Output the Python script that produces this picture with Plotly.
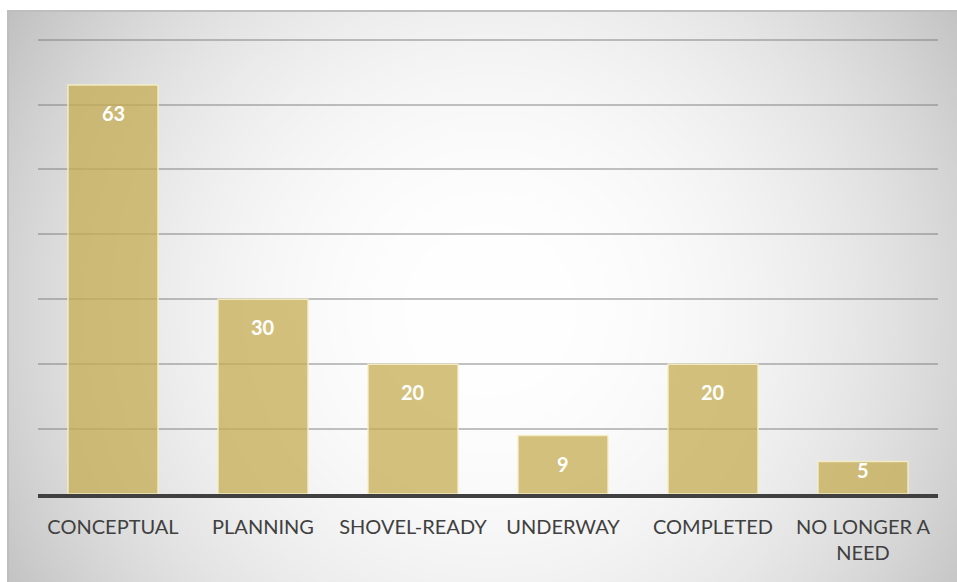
import base64
import struct
import zlib

import numpy as np
import plotly.graph_objects as go

# Project status counts
categories = ["CONCEPTUAL", "PLANNING", "SHOVEL-READY", "UNDERWAY", "COMPLETED", "NO LONGER A<br>NEED"]
counts = [63, 30, 20, 9, 20, 5]
y_ticks = [0, 10, 20, 30, 40, 50, 60, 70]

W, H = 957, 582
M_L, M_R, M_T, M_B = 38, 19, 37, 88
PW, PH = W - M_L - M_R, H - M_T - M_B
y_range = [0, 70.4]


def png_gray(arr):
    """Encode a 2-D uint8 array as a grayscale PNG data URI."""
    h, w = arr.shape
    raw = b"".join(b"\x00" + arr[r].tobytes() for r in range(h))

    def chunk(tag, data):
        c = struct.pack(">I", len(data)) + tag + data
        return c + struct.pack(">I", zlib.crc32(tag + data) & 0xFFFFFFFF)

    png = b"\x89PNG\r\n\x1a\n"
    png += chunk(b"IHDR", struct.pack(">IIBBBBB", w, h, 8, 0, 0, 0, 0))
    png += chunk(b"IDAT", zlib.compress(raw, 9))
    png += chunk(b"IEND", b"")
    return "data:image/png;base64," + base64.b64encode(png).decode()


# Radial grey-to-white chart-area fill
yy, xx = np.mgrid[0:H, 0:W].astype(float)
cx, cy = 490.0, 310.0
d = np.sqrt((xx - cx) ** 2 + (yy - cy) ** 2)
shade = 255.0 - 60.0 * (d / 556.0) ** 2.2
shade = np.clip(shade, 185, 255)
panel_left, panel_top = 7, 10
shade[:panel_top, :] = 255
shade[:, :panel_left] = 255
shade[panel_top:panel_top + 2, panel_left:] = 190
shade[panel_top:, panel_left:panel_left + 2] = 190
bg_uri = png_gray(shade.astype(np.uint8))

fig = go.Figure()
fig.add_trace(go.Bar(
    x=categories,
    y=counts,
    width=0.6,
    marker=dict(color="rgba(197,172,82,0.75)", line=dict(color="rgba(245,238,200,0.9)", width=1.5)),
    hoverinfo="x+y",
))

# Value labels just inside the top of each bar
px_per_unit = PH / (y_range[1] - y_range[0])
for cat, v in zip(categories, counts):
    bar_px = v * px_per_unit
    shift = -min(14.0, max(-6.0, bar_px - 38.4))
    fig.add_annotation(
        x=cat, y=v, text=f"<b>{v}</b>", showarrow=False,
        yanchor="top", yshift=shift,
        font=dict(family="Lato, 'Open Sans', sans-serif", size=20, color="white"),
    )

fig.add_layout_image(
    source=bg_uri, xref="paper", yref="paper",
    x=-M_L / PW, y=(PH + M_T) / PH, sizex=W / PW, sizey=H / PH,
    xanchor="left", yanchor="top", sizing="stretch", layer="below",
)

fig.update_layout(
    width=W, height=H,
    margin=dict(l=M_L, r=M_R, t=M_T, b=M_B),
    paper_bgcolor="white",
    plot_bgcolor="rgba(0,0,0,0)",
    showlegend=False,
    bargap=0.4,
    font=dict(family="Lato, 'Open Sans', sans-serif", size=20, color="#404040"),
)
fig.update_xaxes(
    showline=True, linecolor="#404040", linewidth=4,
    showgrid=False, ticks="", tickfont=dict(size=20, color="#404040"),
    ticklabelstandoff=12, fixedrange=True,
)
fig.update_yaxes(
    range=y_range, tickvals=y_ticks, showticklabels=False,
    showgrid=True, gridcolor="rgba(120,120,120,0.45)", gridwidth=1.5,
    zeroline=False, fixedrange=True,
)

fig.write_html("out.html")
